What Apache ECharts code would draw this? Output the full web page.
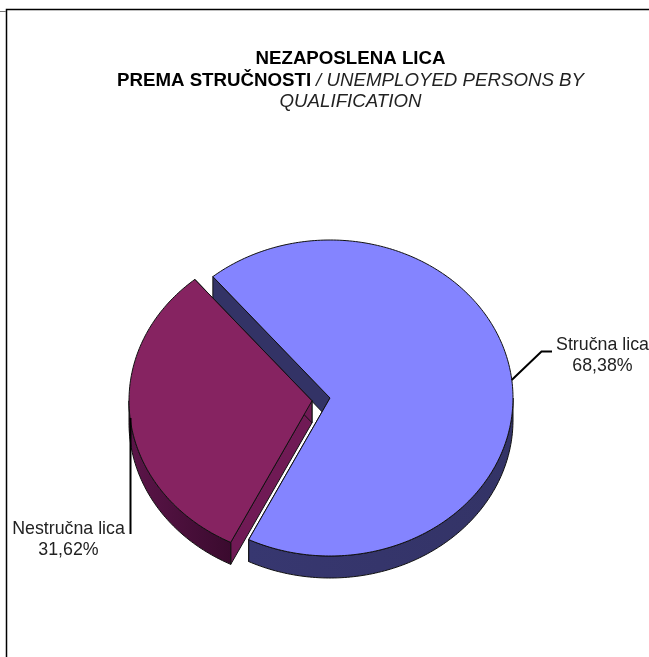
<!DOCTYPE html>
<html>
<head>
<meta charset="utf-8">
<title>Nezaposlena lica</title>
<script type="text/javascript" src="https://cdn.jsdelivr.net/npm/echarts@6/dist/echarts.min.js"></script>
<style>html, body { margin: 0; padding: 0; background: #fff; }</style>
</head>
<body>
	<div id="main" style="width: 649px; height: 657px;"></div>
	<script type="text/javascript">
		var categories = ['Stručna lica', 'Nestručna lica'];
		var shares = [68.38, 31.62];

		var topColors = ['#8484ff', '#862361'];
		var rimColors = [['#373770', '#333366'], ['#5c1549', '#3a0a2e']];
		var cutColors = ['#333366', '#701a55'];

		// ellipse of the tilted pie, and how far each slice is pulled out
		var cx = 330, cy = 398, rx = 183, ry = 158, depth = 22;
		var startAngle = 320.2;
		var offsets = [[0, 0], [-18, 2.8]];

		var total = shares.reduce(function (a, b) { return a + b; }, 0);

		function rimPoint(angle, ox, oy, down) {
			var r = angle * Math.PI / 180;
			return [cx + ox + rx * Math.sin(r), cy + oy + down - ry * Math.cos(r)];
		}

		function arcPoints(from, to, ox, oy, down) {
			var pts = [];
			var n = Math.max(2, Math.ceil(Math.abs(to - from)));
			for (var i = 0; i <= n; i++) {
				pts.push(rimPoint(from + (to - from) * i / n, ox, oy, down));
			}
			return pts;
		}

		function renderSlice(params, api) {
			var idx = params.dataIndex;
			var before = 0;
			for (var i = 0; i < idx; i++) before += shares[i];
			var a0 = startAngle + before / total * 360;
			var a1 = a0 + api.value(0) / total * 360;
			var ox = offsets[idx][0], oy = offsets[idx][1];
			var apex = [cx + ox, cy + oy];
			var line = { stroke: '#111', lineWidth: 1 };
			var children = [];

			// cut faces first, top surface covers what is hidden
			[a0, a1].forEach(function (a) {
				var p = rimPoint(a, ox, oy, 0);
				children.push({
					type: 'polygon',
					shape: { points: [apex, p, [p[0], p[1] + depth], [apex[0], apex[1] + depth]] },
					style: { fill: cutColors[idx], stroke: line.stroke, lineWidth: line.lineWidth }
				});
			});

			// outer wall, only the front half of the ellipse shows
			var f0 = Math.max(a0, 450), f1 = Math.min(a1, 630);
			if (f1 > f0) {
				var upper = arcPoints(f0, f1, ox, oy, 0);
				var lower = arcPoints(f1, f0, ox, oy, depth);
				children.push({
					type: 'polygon',
					shape: { points: upper.concat(lower) },
					style: {
						fill: new echarts.graphic.LinearGradient(0, 0, 1, 0, [
							{ offset: 0, color: rimColors[idx][0] },
							{ offset: 1, color: rimColors[idx][1] }
						]),
						stroke: line.stroke,
						lineWidth: line.lineWidth
					}
				});
			}

			children.push({
				type: 'polygon',
				shape: { points: [apex].concat(arcPoints(a0, a1, ox, oy, 0)) },
				style: { fill: topColors[idx], stroke: line.stroke, lineWidth: line.lineWidth }
			});

			return { type: 'group', children: children };
		}

		function percentText(v) {
			return v.toFixed(2).replace('.', ',') + '%';
		}

		var labelFont = { fontFamily: 'Liberation Sans', fontSize: 17.8, fill: '#222', align: 'center', lineHeight: 21 };

		var myChart = echarts.init(document.getElementById('main'), null, { renderer: 'canvas' });
		var option = {
			animation: false,
			backgroundColor: '#fff',
			title: {
				left: 345.5,
				top: 43.5,
				textAlign: 'center',
				text: '{b|NEZAPOSLENA LICA}\n{b|PREMA STRUČNOSTI} {i|/ UNEMPLOYED PERSONS BY}\n{i|QUALIFICATION}',
				textStyle: {
					rich: {
						b: { fontFamily: 'Liberation Sans', fontSize: 18.7, fontWeight: 'bold', fontStyle: 'normal', color: '#000', lineHeight: 21.5 },
						i: { fontFamily: 'Liberation Sans', fontSize: 18.7, fontWeight: 'normal', fontStyle: 'italic', color: '#222', lineHeight: 21.5 }
					}
				}
			},
			series: [{
				type: 'custom',
				coordinateSystem: 'none',
				renderItem: renderSlice,
				data: shares,
				silent: true
			}],
			graphic: [
				// frame of the pasted picture
				{ type: 'polyline', z: 10, shape: { points: [[6.5, 657], [6.5, 9.5], [649, 9.5]] }, style: { stroke: '#000', lineWidth: 1.5, fill: null } },
				{ type: 'line', z: 10, shape: { x1: 0, y1: 11.5, x2: 6, y2: 11.5 }, style: { stroke: '#777', lineWidth: 1 } },
				// leader lines
				{ type: 'polyline', z: 10, shape: { points: [[511.7, 380], [541.5, 351.5], [552, 351.5]] }, style: { stroke: '#000', lineWidth: 2, fill: null } },
				{ type: 'polyline', z: 10, shape: { points: [[130.5, 418], [130.5, 534]] }, style: { stroke: '#000', lineWidth: 2, fill: null } },
				{ type: 'text', z: 10, x: 602.5, y: 335, style: Object.assign({ text: categories[0] + '\n' + percentText(shares[0]) }, labelFont) },
				{ type: 'text', z: 10, x: 68.5, y: 518.5, style: Object.assign({ text: categories[1] + '\n' + percentText(shares[1]) }, labelFont) }
			]
		};
		myChart.setOption(option);
	</script>
</body>
</html>
